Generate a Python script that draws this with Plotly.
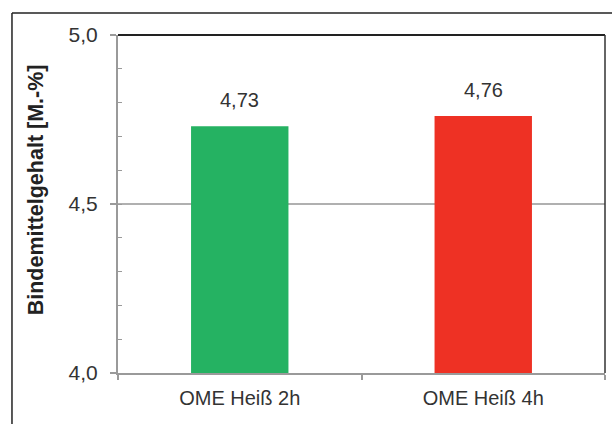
import plotly.graph_objects as go

categories = ["OME Heiß 2h", "OME Heiß 4h"]
values = [4.73, 4.76]
value_labels = ["4,73", "4,76"]
bar_colors = ["#25B262", "#EE3124"]
y_title = "<b>Bindemittelgehalt [M.-%]</b>"

fig = go.Figure()
fig.add_trace(go.Bar(
    x=categories, y=values, marker=dict(color=bar_colors, line=dict(width=0)),
    width=0.40, showlegend=False,
))
for c, v, t in zip(categories, values, value_labels):
    fig.add_annotation(x=c, y=v, text=t, showarrow=False, yanchor="bottom", yshift=13,
                       font=dict(size=20, color="#333333"))

# y-axis title as rotated annotation
fig.add_annotation(xref="paper", yref="paper", x=-0.168, y=0.541, text=y_title,
                   textangle=-90, showarrow=False, xanchor="center", yanchor="middle",
                   font=dict(size=21.5, color="#222222", family="Liberation Sans, Arial, sans-serif"))

fig.update_layout(
    width=612, height=424,
    margin=dict(l=118, r=7, t=35, b=51),
    paper_bgcolor="white", plot_bgcolor="white",
    separators=",.",
    font=dict(family="Liberation Sans, Arial, sans-serif", size=20, color="#333333"),
    xaxis=dict(
        showline=True, linecolor="#9a9a9a", linewidth=2,
        ticks="outside", ticklen=5, tickcolor="#9a9a9a", tickwidth=2,
        tickson="boundaries", showgrid=False,
        ticklabelstandoff=6,
        tickfont=dict(size=20, color="#333333"),
    ),
    yaxis=dict(
        range=[4.0, 5.0], dtick=0.5, tickformat=".1f",
        showline=True, linecolor="#9a9a9a", linewidth=2,
        ticks="outside", ticklen=6, tickcolor="#9a9a9a", tickwidth=2,
        showgrid=True, gridcolor="#b0b0b0", gridwidth=1.5,
        zeroline=False,
        ticklabelstandoff=8,
        minor=dict(ticks="inside", dtick=0.1, ticklen=4, tickcolor="#9a9a9a", tickwidth=1, showgrid=False),
        tickfont=dict(size=21, color="#333333"),
    ),
)
# top and right plot frame lines (dark)
fig.add_shape(type="line", xref="paper", yref="paper", x0=0, x1=1, y0=1, y1=1,
              line=dict(color="#222222", width=2))
fig.add_shape(type="line", xref="paper", yref="paper", x0=1, x1=1, y0=0, y1=1,
              line=dict(color="#333333", width=1.5))
# outer frame (open at right and bottom)
fig.add_shape(type="line", xref="paper", yref="paper", x0=-0.2177, x1=1.1, y0=1.065, y1=1.065,
              line=dict(color="#222222", width=1.5))
fig.add_shape(type="line", xref="paper", yref="paper", x0=-0.2177, x1=-0.2177, y0=1.065, y1=-0.3,
              line=dict(color="#222222", width=1.5))

fig.write_html("out.html")
